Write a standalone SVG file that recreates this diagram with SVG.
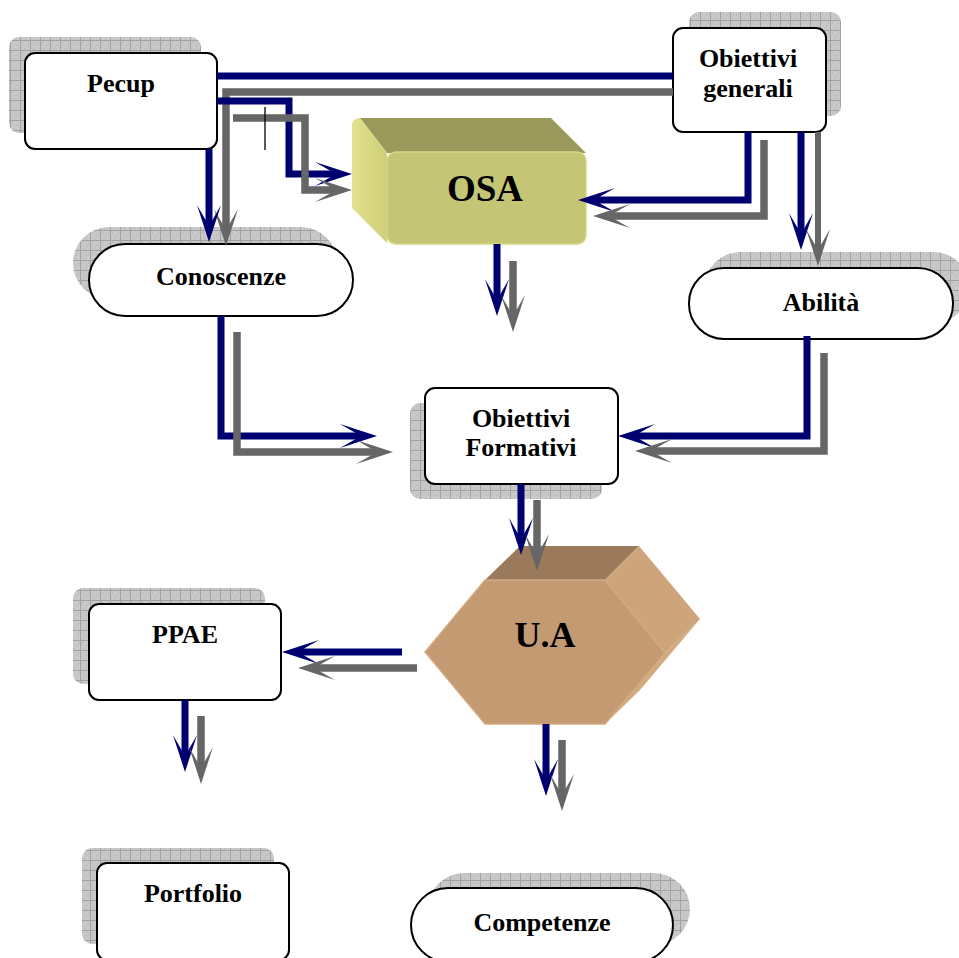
<svg xmlns="http://www.w3.org/2000/svg" width="959" height="958" viewBox="0 0 959 958">
<defs>
<pattern id="grid" width="10" height="10" patternUnits="userSpaceOnUse">
<rect width="10" height="10" fill="#c8c8c8"/>
<rect x="2" y="2" width="1" height="1" fill="#b4b4b4"/><rect x="6" y="5" width="1" height="1" fill="#b4b4b4"/>
<rect x="4" y="8" width="1" height="1" fill="#b4b4b4"/><rect x="8" y="3" width="1" height="1" fill="#b4b4b4"/>
<path d="M0,0.5 H10 M0.5,0 V10" stroke="#a2a2a2" stroke-width="1"/>
</pattern>
<marker id="an" markerUnits="userSpaceOnUse" orient="auto" overflow="visible" refX="0" refY="0" markerWidth="40" markerHeight="30">
<path d="M16,0 L-21,-12 L0,0 L-21,12 Z" fill="#000070"/>
</marker>
<marker id="ag" markerUnits="userSpaceOnUse" orient="auto" overflow="visible" refX="0" refY="0" markerWidth="40" markerHeight="30">
<path d="M16,0 L-21,-12 L0,0 L-21,12 Z" fill="#666666"/>
</marker>
<linearGradient id="osaLeft" x1="0" y1="0" x2="1" y2="0">
<stop offset="0" stop-color="#e2e28e"/><stop offset="1" stop-color="#cfcf78"/>
</linearGradient>
</defs>
<style>
.shadow{fill:url(#grid)}
.box{fill:#fff;stroke:#000;stroke-width:2}
.lbl{font-family:"Liberation Serif","Times New Roman",serif;font-weight:bold;font-size:26px;fill:#000;text-anchor:middle}
.big{font-size:37px}
.n{fill:none;stroke:#000070;stroke-width:7}
.g{fill:none;stroke:#666666;stroke-width:7.5}
.n.a{marker-end:url(#an)}
.g.a{marker-end:url(#ag)}
</style>

<g id="pecup">
<rect class="shadow" x="9" y="37" width="192" height="96" rx="10"/>
<rect class="box" x="25" y="53" width="192" height="96" rx="10"/>
<text class="lbl" x="121" y="92">Pecup</text>
</g>

<g id="obiettivi-generali">
<rect class="shadow" x="689" y="12" width="152" height="104" rx="10"/>
<rect class="box" x="673" y="28" width="153" height="104" rx="10"/>
<text class="lbl" x="748" y="67">Obiettivi</text>
<text class="lbl" x="748" y="97">generali</text>
</g>

<g id="osa">
<path d="M360,118 L551,118 L586,153 L387,153 Z" fill="#999959"/>
<path d="M352,126 Q352,118 360,118 L387,153 L387,243 L352,208 Z" fill="url(#osaLeft)"/>
<rect x="387" y="152" width="199" height="92" rx="9" fill="#c5c576" stroke="#d6d684" stroke-width="1.5"/>
<text class="lbl big" x="485" y="201">OSA</text>
</g>

<g id="conoscenze">
<rect class="shadow" x="73" y="227" width="264" height="72" rx="36"/>
<rect class="box" x="89" y="244" width="264" height="72" rx="36"/>
<text class="lbl" x="221" y="285">Conoscenze</text>
</g>

<g id="abilita">
<rect class="shadow" x="705" y="252" width="264" height="71" rx="35"/>
<rect class="box" x="689" y="268" width="264" height="71" rx="35"/>
<text class="lbl" x="821" y="311">Abilità</text>
</g>

<g id="obiettivi-formativi">
<rect class="shadow" x="410" y="403" width="192" height="96" rx="10"/>
<rect class="box" x="425" y="388" width="193" height="96" rx="10"/>
<text class="lbl" x="521" y="427">Obiettivi</text>
<text class="lbl" x="521" y="456">Formativi</text>
</g>

<g id="ua">
<path d="M485,580 L520,546 L639,546 L605,580 Z" fill="#9a7a5b"/>
<path d="M605,580 L639,546 L700,619 L665,653 Z" fill="#cea47a"/>
<path d="M665,653 L700,619 L640,690 L605,724 Z" fill="#d3a97e"/>
<path d="M425,652 L485,580 L605,580 L665,653 L605,724 L485,724 Z" fill="#c49a73" stroke="#d4aa80" stroke-width="1.5"/>
<text class="lbl big" x="545" y="647" style="font-size:36px">U.A</text>
</g>

<g id="ppae">
<rect class="shadow" x="73" y="588" width="192" height="96" rx="10"/>
<rect class="box" x="89" y="604" width="192" height="96" rx="10"/>
<text class="lbl" x="185" y="643">PPAE</text>
</g>

<g id="portfolio">
<rect class="shadow" x="82" y="848" width="192" height="96" rx="10"/>
<rect class="box" x="97" y="863" width="192" height="97" rx="10"/>
<text class="lbl" x="193" y="902">Portfolio</text>
</g>

<g id="competenze">
<rect class="shadow" x="428" y="873" width="262" height="72" rx="36"/>
<rect class="box" x="411" y="888" width="262" height="74" rx="37"/>
<text class="lbl" x="542" y="931">Competenze</text>
</g>

<g id="connectors">
<path class="n" d="M217,76 H673"/>
<path class="g a" d="M673,92 H226 V230"/>
<path class="n a" d="M209,149 V226"/>
<path class="n a" d="M217,101 H289 V174 H336"/>
<path class="g a" d="M233,118 H305 V190 H336"/>
<path d="M265,107 V150" stroke="#000" stroke-width="1.3" fill="none"/>
<path class="n a" d="M748,132 V200 H594"/>
<path class="g a" d="M764,140 V216 H609"/>
<path class="n a" d="M801,132 V234"/>
<path class="g a" d="M818,132 V250" style="stroke-width:6"/>
<path class="n a" d="M497,244 V300"/>
<path class="g a" d="M513,261 V316"/>
<path class="n a" d="M221,316 V436 H361"/>
<path class="g a" d="M237,332 V452 H377"/>
<path class="n a" d="M807,336 V436 H634"/>
<path class="g a" d="M824,353 V451 H651"/>
<path class="n a" d="M521,484 V539"/>
<path class="g a" d="M537,500 V555"/>
<path class="n a" d="M402,652 H298"/>
<path class="g a" d="M417,668 H314"/>
<path class="n a" d="M185,700 V756"/>
<path class="g a" d="M201,716 V768"/>
<path class="n a" d="M546,724 V780"/>
<path class="g a" d="M562,740 V795"/>
</g>
</svg>
